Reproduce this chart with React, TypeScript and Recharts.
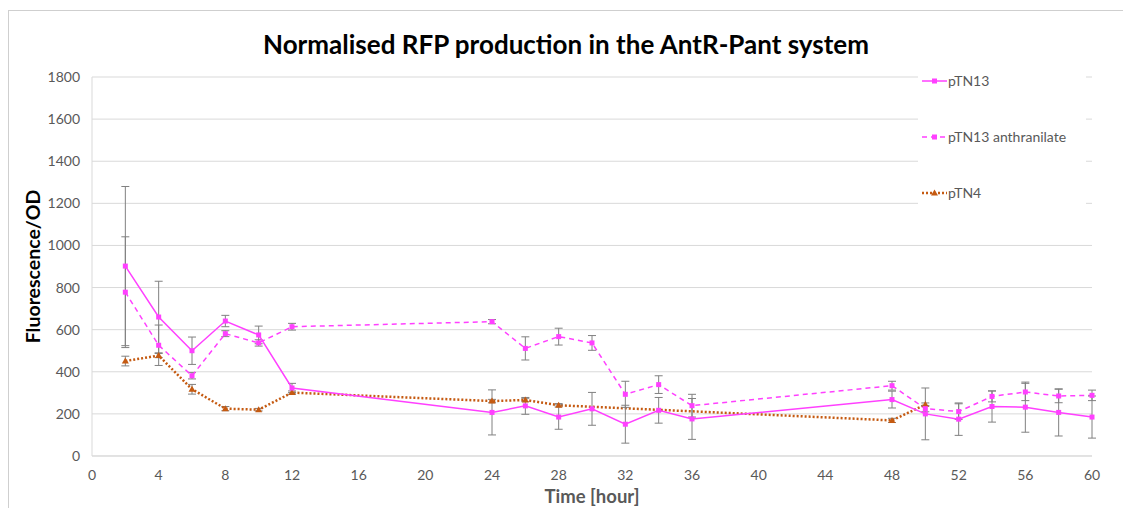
import {
  CartesianGrid,
  ErrorBar,
  Label,
  Line,
  LineChart,
  XAxis,
  YAxis,
} from "recharts";

// sampling times (hours)
const hours = [2, 4, 6, 8, 10, 12, 24, 26, 28, 30, 32, 34, 36, 48, 50, 52, 54, 56, 58, 60];

const pTN13 = [902, 660, 500, 641, 575, 323, 207, 238, 185, 224, 151, 217, 176, 268, 200, 175, 235, 232, 207, 185];
const pTN13Err = [378, 170, 65, 27, 42, 22, 107, 40, 58, 78, 90, 61, 97, 40, 123, 77, 74, 119, 112, 100];

const pTN13Anth = [778, 526, 381, 581, 537, 614, 638, 511, 567, 537, 293, 339, 239, 334, 225, 211, 283, 304, 285, 288];
const pTN13AnthErr = [263, 96, 15, 14, 15, 16, 10, 55, 40, 35, 62, 42, 54, 21, 15, 37, 26, 41, 32, 25];

const pTN4 = [451, 477, 317, 225, 220, 301, 261, 266, 241, null, null, null, null, 169, 244, null, null, null, null, null];
const pTN4Err = [23, 10, 23, 10, 6, 8, 8, 8, 8, null, null, null, null, 10, 8, null, null, null, null, null];

const xTicks = [0, 4, 8, 12, 16, 20, 24, 28, 32, 36, 40, 44, 48, 52, 56, 60];
const yTicks = [0, 200, 400, 600, 800, 1000, 1200, 1400, 1600, 1800];

const data = hours.map((h, i) => ({
  hour: h,
  pTN13: pTN13[i],
  pTN13Err: pTN13Err[i],
  pTN13Anth: pTN13Anth[i],
  pTN13AnthErr: pTN13AnthErr[i],
  pTN4: pTN4[i],
  pTN4Err: pTN4Err[i],
}));

const MAGENTA = "#ff40ff";
const ORANGE = "#c55a11";
const ERR = "#808080";
const FONT = "Lato, 'Open Sans', sans-serif";

const Square = (props: any) => {
  const { cx, cy, index } = props;
  if (cx == null || cy == null) return <g key={index} />;
  return <rect key={index} x={cx - 2.5} y={cy - 2.5} width={5} height={5} fill={MAGENTA} />;
};

const Triangle = (props: any) => {
  const { cx, cy, index } = props;
  if (cx == null || cy == null) return <g key={index} />;
  return (
    <path
      key={index}
      d={`M${cx},${cy - 3.5}L${cx + 3.5},${cy + 2.5}L${cx - 3.5},${cy + 2.5}Z`}
      fill={ORANGE}
    />
  );
};

const legendItems = [
  { name: "pTN13", color: MAGENTA, dash: undefined as string | undefined, width: 1.5, marker: "square" },
  { name: "pTN13 anthranilate", color: MAGENTA, dash: "5 4", width: 1.5, marker: "square" },
  { name: "pTN4", color: ORANGE, dash: "2 2", width: 2.5, marker: "triangle" },
];

function ChartLegend() {
  return (
    <div
      style={{
        position: "absolute",
        left: 910,
        top: 62,
        width: 168,
        height: 146,
        background: "#fff",
        fontFamily: FONT,
        fontSize: 14,
        color: "#595959",
      }}
    >
      {legendItems.map((it, i) => (
        <div
          key={it.name}
          style={{ position: "absolute", left: 4, top: 2 + i * 56, display: "flex", alignItems: "center" }}
        >
          <svg width={25} height={14}>
            <line x1={0} y1={7} x2={25} y2={7} stroke={it.color} strokeWidth={it.width} strokeDasharray={it.dash} />
            {it.marker === "square" ? (
              <rect x={10} y={4.5} width={5} height={5} fill={it.color} />
            ) : (
              <path d="M12.5,3.5L16,9.5L9,9.5Z" fill={it.color} />
            )}
          </svg>
          <span style={{ marginLeft: 1 }}>{it.name}</span>
        </div>
      ))}
    </div>
  );
}

export default function App() {
  return (
    <div style={{ position: "relative", width: 1123, height: 500, overflow: "hidden", background: "#fff" }}>
      <div
        style={{
          position: "absolute",
          left: 0,
          top: 2,
          width: 2000,
          height: 2000,
          border: "1px solid #cfcfcf",
        }}
      />
      <div
        style={{
          position: "absolute",
          left: 0,
          top: 20,
          width: 1116,
          textAlign: "center",
          fontFamily: FONT,
          fontWeight: 700,
          fontSize: 26,
          color: "#000",
        }}
      >
        Normalised RFP production in the AntR-Pant system
      </div>
      <div style={{ position: "absolute", left: 0, top: 0 }}>
        <LineChart width={1123} height={500} data={data} margin={{ top: 69, right: 39, bottom: 22, left: 24 }}>
          <CartesianGrid vertical={false} stroke="#d9d9d9" />
          <XAxis
            dataKey="hour"
            type="number"
            domain={[0, 60]}
            ticks={xTicks}
            interval={0}
            height={30}
            axisLine={{ stroke: "#d9d9d9" }}
            tickLine={false}
            tickMargin={8}
            tick={{ fontSize: 14, fill: "#595959", fontFamily: FONT }}
          >
            <Label
              value="Time [hour]"
              position="bottom"
              offset={4}
              style={{ fontSize: 18.5, fontWeight: 700, fill: "#595959", fontFamily: FONT }}
            />
          </XAxis>
          <YAxis
            type="number"
            domain={[0, 1800]}
            ticks={yTicks}
            interval={0}
            width={60}
            axisLine={{ stroke: "#d9d9d9" }}
            tickLine={false}
            tickMargin={6}
            tick={{ fontSize: 14, fill: "#595959", fontFamily: FONT }}
          >
            <Label
              value="Fluorescence/OD"
              angle={-90}
              position="insideLeft"
              offset={1}
              style={{ textAnchor: "middle", fontSize: 19.5, fontWeight: 700, fill: "#000", fontFamily: FONT }}
            />
          </YAxis>
          <Line
            dataKey="pTN4"
            stroke={ORANGE}
            strokeWidth={2.5}
            strokeDasharray="2 2"
            connectNulls
            dot={Triangle}
            activeDot={false}
            isAnimationActive={false}
          >
            <ErrorBar dataKey="pTN4Err" direction="y" width={4} stroke={ERR} strokeWidth={1} />
          </Line>
          <Line
            dataKey="pTN13Anth"
            stroke={MAGENTA}
            strokeWidth={1.5}
            strokeDasharray="5 4"
            dot={Square}
            activeDot={false}
            isAnimationActive={false}
          >
            <ErrorBar dataKey="pTN13AnthErr" direction="y" width={4} stroke={ERR} strokeWidth={1} />
          </Line>
          <Line
            dataKey="pTN13"
            stroke={MAGENTA}
            strokeWidth={1.5}
            dot={Square}
            activeDot={false}
            isAnimationActive={false}
          >
            <ErrorBar dataKey="pTN13Err" direction="y" width={4} stroke={ERR} strokeWidth={1} />
          </Line>
        </LineChart>
      </div>
      <ChartLegend />
    </div>
  );
}
